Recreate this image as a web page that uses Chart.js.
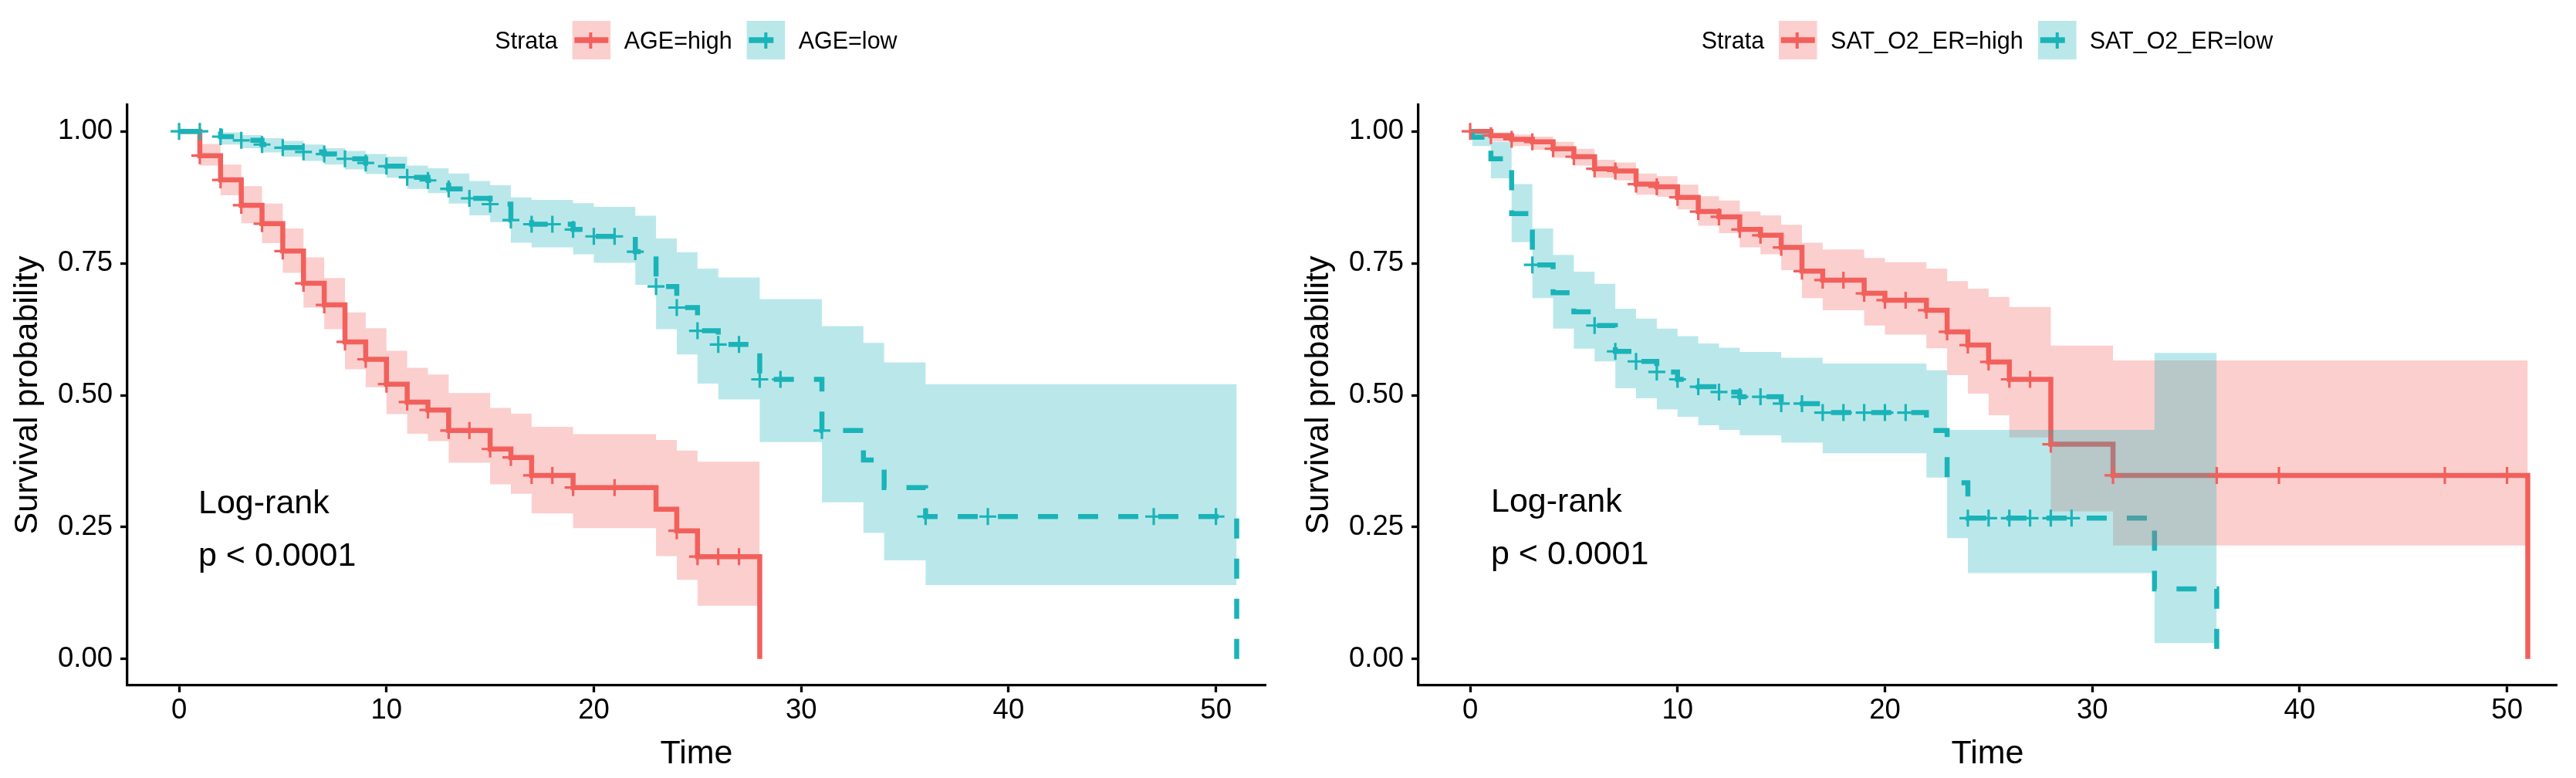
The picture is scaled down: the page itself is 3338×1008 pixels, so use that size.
<!DOCTYPE html>
<html>
<head>
<meta charset="utf-8">
<script src="https://cdn.jsdelivr.net/npm/chart.js@4.4.1/dist/chart.umd.min.js"></script>
<style>
html,body{margin:0;padding:0;background:#fff;width:3338px;height:1008px;overflow:hidden;font-family:'Liberation Sans',Arial,Helvetica,sans-serif;}
.panel{position:absolute;top:0;width:1669px;height:1008px;}
.panel canvas{position:absolute;left:0;top:0;}
.legend{position:absolute;top:27px;height:50px;display:flex;align-items:center;transform:translateX(-50%);white-space:nowrap;font-size:30.5px;color:#000;}
.legend span{line-height:50px;display:block;}
.legend svg{display:block;}
.pval{position:absolute;font-size:43px;line-height:68px;color:#000;white-space:nowrap;}
</style>
</head>
<body>
<div class="panel" style="left:0px">
  <canvas id="c1" width="1669" height="1008"></canvas>
  <div class="legend" id="leg1" style="left:902px"></div>
  <div class="pval" id="pv1" style="left:257px;top:616px"></div>
</div>
<div class="panel" style="left:1669px">
  <canvas id="c2" width="1669" height="1008"></canvas>
  <div class="legend" id="leg2" style="left:906px"></div>
  <div class="pval" id="pv2" style="left:263px;top:614px"></div>
</div>
<script>
// ---------- axis ticks ----------
const xTicks = [0, 10, 20, 30, 40, 50];
const yTicks = [0, 0.25, 0.5, 0.75, 1];
const xAxisTitle = 'Time';
const yAxisTitle = 'Survival probability';
const legendTitle = 'Strata';
const pvalLines = ['Log-rank', 'p < 0.0001'];

// ---------- left panel: AGE ----------
const ageLabels = ['AGE=high', 'AGE=low'];
const ageHighTime  = [0, 1, 2, 3, 4, 5, 6, 7, 8, 9, 10, 11, 12, 13, 15, 16, 17, 19, 23, 24, 25, 28];
const ageHighSurv  = [1, 0.954, 0.908, 0.860, 0.825, 0.773, 0.712, 0.671, 0.601, 0.568, 0.521, 0.487, 0.472, 0.433, 0.398, 0.382, 0.348, 0.325, 0.284, 0.243, 0.194, 0];
const ageHighUpper = [1, 0.976, 0.937, 0.896, 0.863, 0.816, 0.761, 0.722, 0.657, 0.627, 0.584, 0.552, 0.539, 0.504, 0.476, 0.465, 0.440, 0.426, 0.415, 0.395, 0.374, 0.374];
const ageHighLower = [1, 0.935, 0.879, 0.826, 0.788, 0.732, 0.666, 0.625, 0.549, 0.515, 0.464, 0.427, 0.413, 0.372, 0.331, 0.313, 0.276, 0.248, 0.195, 0.150, 0.101, 0.101];
const ageHighCensor = [1, 2, 3, 4, 5, 6, 7, 8, 9, 10, 11, 12, 13, 14, 15, 16, 17, 18, 19, 21, 24, 25, 26, 27];

const ageLowTime  = [0, 2, 3, 4, 5, 6, 7, 8, 9, 10, 11, 12, 13, 14, 15, 16, 17, 19, 20, 22, 23, 24, 25, 26, 28, 31, 33, 34, 36, 51];
const ageLowSurv  = [1, 0.990, 0.983, 0.975, 0.969, 0.961, 0.957, 0.948, 0.940, 0.934, 0.913, 0.907, 0.891, 0.873, 0.862, 0.832, 0.824, 0.814, 0.801, 0.772, 0.706, 0.666, 0.622, 0.596, 0.530, 0.433, 0.377, 0.325, 0.270, 0];
const ageLowUpper = [1, 0.998, 0.993, 0.987, 0.982, 0.975, 0.968, 0.963, 0.957, 0.952, 0.935, 0.930, 0.920, 0.906, 0.898, 0.875, 0.870, 0.864, 0.857, 0.840, 0.797, 0.771, 0.740, 0.723, 0.682, 0.631, 0.599, 0.562, 0.521, 0.521];
const ageLowLower = [1, 0.975, 0.968, 0.960, 0.952, 0.944, 0.937, 0.928, 0.919, 0.912, 0.891, 0.883, 0.863, 0.841, 0.828, 0.789, 0.780, 0.767, 0.751, 0.709, 0.625, 0.577, 0.522, 0.492, 0.411, 0.297, 0.239, 0.187, 0.140, 0.140];
const ageLowCensor = [0, 1, 2, 3, 4, 5, 6, 7, 8, 9, 10, 11, 12, 13, 14, 15, 16, 17, 18, 19, 20, 21, 22, 23, 24, 25, 26, 27, 28, 29, 31, 36, 39, 47, 50];

// ---------- right panel: SAT_O2_ER ----------
const satLabels = ['SAT_O2_ER=high', 'SAT_O2_ER=low'];
const satHighTime  = [0, 1, 2, 3, 4, 5, 6, 7, 8, 9, 10, 11, 12, 13, 14, 15, 16, 17, 19, 20, 22, 23, 24, 25, 26, 28, 31, 51];
const satHighSurv  = [1, 0.992, 0.985, 0.980, 0.967, 0.952, 0.929, 0.925, 0.900, 0.895, 0.875, 0.848, 0.838, 0.814, 0.803, 0.780, 0.735, 0.718, 0.693, 0.680, 0.661, 0.620, 0.595, 0.563, 0.530, 0.407, 0.348, 0];
const satHighUpper = [1, 0.998, 0.994, 0.990, 0.980, 0.967, 0.946, 0.941, 0.920, 0.915, 0.899, 0.877, 0.869, 0.848, 0.841, 0.823, 0.789, 0.776, 0.760, 0.752, 0.740, 0.716, 0.702, 0.686, 0.667, 0.594, 0.566, 0.566];
const satHighLower = [1, 0.981, 0.972, 0.965, 0.950, 0.935, 0.912, 0.907, 0.880, 0.876, 0.852, 0.821, 0.807, 0.780, 0.767, 0.737, 0.684, 0.661, 0.632, 0.615, 0.589, 0.538, 0.503, 0.462, 0.420, 0.280, 0.215, 0.215];
const satHighCensor = [0, 1, 2, 3, 4, 5, 6, 7, 8, 9, 10, 11, 12, 13, 14, 15, 16, 17, 18, 19, 20, 21, 22, 23, 24, 25, 26, 27, 28, 31, 36, 39, 47, 50];

const satLowTime  = [0, 0.1, 1, 2, 3, 4, 5, 6, 7, 8, 9, 10, 11, 12, 13, 15, 17, 22, 23, 24, 33, 36];
const satLowSurv  = [1, 0.989, 0.948, 0.844, 0.747, 0.694, 0.658, 0.632, 0.583, 0.564, 0.544, 0.530, 0.516, 0.506, 0.497, 0.484, 0.467, 0.433, 0.334, 0.267, 0.133, 0];
const satLowUpper = [1, 1.000, 0.980, 0.900, 0.816, 0.766, 0.734, 0.711, 0.664, 0.645, 0.626, 0.612, 0.598, 0.590, 0.582, 0.571, 0.560, 0.547, 0.434, 0.434, 0.580, 0.580];
const satLowLower = [1, 0.972, 0.911, 0.790, 0.684, 0.626, 0.588, 0.564, 0.513, 0.494, 0.473, 0.459, 0.443, 0.434, 0.424, 0.410, 0.390, 0.344, 0.229, 0.163, 0.030, 0.030];
const satLowCensor = [3, 6, 7, 8, 9, 10, 11, 12, 13, 14, 15, 16, 17, 18, 19, 20, 21, 24, 25, 26, 27, 28, 29];

// ---------- styling ----------
const RED = 'rgb(242,96,92)';
const TEAL = 'rgb(26,180,184)';
const RED_BAND = 'rgba(242,96,92,0.3)';
const TEAL_BAND = 'rgba(26,180,184,0.3)';
const LINE_W = 6.5;
const DASH = [26, 26];
const FONT = "'Liberation Sans', Arial, Helvetica, sans-serif";

function pts(xs, ys) { return xs.map((x, i) => ({x: x, y: ys[i]})); }
function survAt(times, surv, t) {
  let v = surv[0];
  for (let i = 0; i < times.length; i++) { if (times[i] <= t) v = surv[i]; }
  return v;
}
function censorPts(times, surv, cens) { return cens.map(t => ({x: t, y: survAt(times, surv, t)})); }

function groupSets(g, color, band, dash, lineOrder, bandOrder, censOrder) {
  const common = {stepped: 'before', pointRadius: 0, pointHoverRadius: 0, tension: 0};
  return [
    Object.assign({label: g.name, data: pts(g.time, g.surv), borderColor: color, borderWidth: LINE_W,
      borderDash: dash, borderCapStyle: 'butt', borderJoinStyle: 'miter', fill: false, order: lineOrder}, common),
    Object.assign({label: g.name + ' upper', data: pts(g.time, g.upper), borderColor: 'rgba(0,0,0,0)', borderWidth: 0,
      backgroundColor: band, fill: '+1', order: bandOrder}, common),
    Object.assign({label: g.name + ' lower', data: pts(g.time, g.lower), borderColor: 'rgba(0,0,0,0)', borderWidth: 0,
      fill: false, order: bandOrder}, common),
    {label: g.name + ' censor', data: censorPts(g.time, g.surv, g.censor), showLine: false, pointStyle: 'cross',
      pointRadius: 11, pointHoverRadius: 11, pointBorderWidth: 3.2, pointHoverBorderWidth: 3.2, pointBorderColor: color,
      borderColor: color, backgroundColor: color, order: censOrder}
  ];
}

function makeChart(id, axisW, padRight, titlePad, gA, gB) {
  const datasets = [].concat(
    groupSets(gA, RED, RED_BAND, [], 6, 4, 2),
    groupSets(gB, TEAL, TEAL_BAND, DASH, 5, 3, 1)
  );
  return new Chart(document.getElementById(id), {
    type: 'line',
    data: {datasets: datasets},
    options: {
      responsive: false, animation: false, devicePixelRatio: 1, events: [],
      layout: {padding: {left: 0, top: 136, right: padRight, bottom: 0}, autoPadding: false},
      plugins: {legend: {display: false}, tooltip: {enabled: false}, title: {display: false}},
      scales: {
        x: {
          type: 'linear', min: -2.495, max: 52.395,
          afterBuildTicks: s => { s.ticks = xTicks.map(v => ({value: v})); },
          afterFit: s => { s.height = 120; },
          grid: {display: true, drawOnChartArea: false, drawTicks: true, tickLength: 9, tickWidth: 3.3, tickColor: '#000', color: '#000'},
          border: {display: true, color: '#000', width: 3.3},
          ticks: {color: '#000', font: {family: FONT, size: 36.5}, padding: 2, maxRotation: 0, autoSkip: false},
          title: {display: true, text: xAxisTitle, color: '#000', font: {family: FONT, size: 43}, padding: {top: 0, bottom: 5}}
        },
        y: {
          type: 'linear', min: -0.05, max: 1.05,
          afterBuildTicks: s => { s.ticks = yTicks.map(v => ({value: v})); },
          afterFit: s => { s.width = axisW; },
          grid: {display: true, drawOnChartArea: false, drawTicks: true, tickLength: 9, tickWidth: 3.3, tickColor: '#000', color: '#000'},
          border: {display: true, color: '#000', width: 3.3},
          ticks: {color: '#000', font: {family: FONT, size: 36.5}, padding: 10, callback: v => Number(v).toFixed(2)},
          title: {display: true, text: yAxisTitle, color: '#000', font: {family: FONT, size: 43}, padding: {top: titlePad, bottom: 0}}
        }
      }
    }
  });
}

function swatch(color, band, dashed) {
  const line = dashed
    ? '<line x1="3" y1="25" x2="35" y2="25" stroke="' + color + '" stroke-width="7.5"/>'
    : '<line x1="3" y1="25" x2="47" y2="25" stroke="' + color + '" stroke-width="7.5"/>';
  const cx = dashed ? 25 : 24;
  return '<svg width="50" height="50" viewBox="0 0 50 50"><rect x="0" y="0" width="50" height="50" fill="' + band + '"/>' +
    line + '<line x1="' + cx + '" y1="15" x2="' + cx + '" y2="36" stroke="' + color + '" stroke-width="4"/></svg>';
}
function buildLegend(id, labels) {
  const el = document.getElementById(id);
  el.innerHTML =
    '<span style="margin-right:19px">' + legendTitle + '</span>' +
    swatch(RED, RED_BAND, false) +
    '<span style="margin-left:17px;margin-right:19px">' + labels[0] + '</span>' +
    swatch(TEAL, TEAL_BAND, true) +
    '<span style="margin-left:17px">' + labels[1] + '</span>';
}
function buildPval(id) {
  document.getElementById(id).innerHTML = pvalLines.map(s => '<div>' + s + '</div>').join('');
}

makeChart('c1', 165, 29, 10,
  {name: ageLabels[0], time: ageHighTime, surv: ageHighSurv, upper: ageHighUpper, lower: ageHighLower, censor: ageHighCensor},
  {name: ageLabels[1], time: ageLowTime, surv: ageLowSurv, upper: ageLowUpper, lower: ageLowLower, censor: ageLowCensor});
makeChart('c2', 169, 25, 14,
  {name: satLabels[0], time: satHighTime, surv: satHighSurv, upper: satHighUpper, lower: satHighLower, censor: satHighCensor},
  {name: satLabels[1], time: satLowTime, surv: satLowSurv, upper: satLowUpper, lower: satLowLower, censor: satLowCensor});

buildLegend('leg1', ageLabels);
buildLegend('leg2', satLabels);
buildPval('pv1');
buildPval('pv2');
</script>
</body>
</html>
